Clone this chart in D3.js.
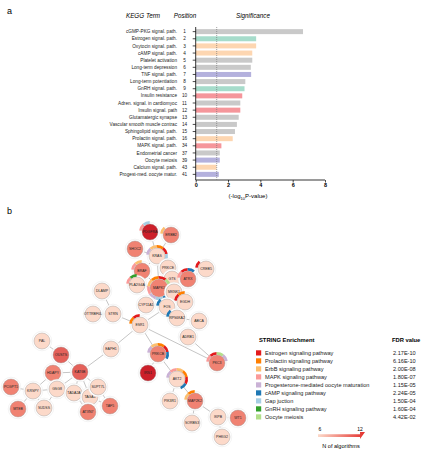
<!DOCTYPE html>
<html>
<head>
<meta charset="utf-8">
<script src="https://cdn.jsdelivr.net/npm/d3@7"></script>
<style>
  body { margin: 0; background: #fff; }
  svg { font-family: "Liberation Sans", Arial, sans-serif; }
</style>
</head>
<body>
<div id="chart"></div>
<script>
// ---- panel a data ----
var keggTerms = ["cGMP-PKG signal. path.", "Estrogen signal. path.", "Oxytocin signal. path.", "cAMP signal. path.",
  "Platelet activation", "Long-term depression", "TNF signal. path.", "Long-term potentiation", "GnRH signal. path.",
  "Insulin resistance", "Adren. signal. in cardiomyoc", "Insulin signal. path", "Glutamatergic synapse",
  "Vascular smooth muscle contrac", "Sphingolipid signal. path.", "Prolactin signal. path.", "MAPK signal. path.",
  "Endometrial cancer", "Oocyte meiosis", "Calcium signal. path.", "Progest-med. oocyte matur."];
var keggPositions = ["1", "2", "3", "4", "5", "6", "7", "8", "9", "10", "11", "12", "13", "14", "15", "16", "34", "37", "39", "43", "41"];
var significance = [6.64, 3.74, 3.74, 3.5, 3.5, 3.41, 3.43, 3.07, 3.02, 2.88, 2.76, 2.76, 2.66, 2.55, 2.43, 2.29,
  1.59, 1.49, 1.49, 1.29, 1.43];
var termGroup = ["other", "estrogen", "prolactin", "prolactin", "other", "other", "progest", "other", "estrogen",
  "mapk", "other", "mapk", "other", "other", "other", "prolactin", "mapk", "other", "progest", "prolactin", "progest"];
var xTicks = [0, 2, 4, 6, 8];
var threshold = 1.3;

// ---- panel b data ----
var pathways = ["Estrogen signaling pathway", "Prolactin signaling pathway", "ErbB signaling pathway",
  "MAPK signaling pathway", "Progesterone-mediated oocyte maturation", "cAMP signaling pathway",
  "Gap juction", "GnRH signaling pathway", "Oocyte meiosis"];
var fdrValues = ["2.17E-10", "6.16E-10", "2.00E-08", "1.80E-07", "1.15E-05", "2.24E-05", "1.50E-04", "1.60E-04", "4.42E-02"];

// gene, layout x, layout y, N of algorithms
var genes = [
  ["PDGFRA", 150, 12, 12], ["ERBB2", 171, 15, 9], ["SHOC2", 135, 29, 9], ["KRAS", 157, 36, 6],
  ["BRAF", 142, 51, 9], ["PRKCE", 168, 48, 6], ["GTS", 172, 59, 6], ["ATRX", 188, 59, 9],
  ["CREB5", 206, 49, 6], ["MAPK1", 159, 68, 9], ["PLA2G4A", 137, 65, 6], ["MKNK1", 174, 72, 6],
  ["EGDH", 185, 82, 6], ["CYP11A1", 146, 85, 6], ["FOS", 167, 87, 6], ["DLAMP", 102, 71, 6],
  ["OTTRBF0L", 93, 94, 6], ["STRN", 113, 94, 6], ["ESR1", 140, 105, 6], ["RPS6KA2", 177, 98, 6],
  ["ABCA", 199, 101, 6], ["ADRB1", 188, 117, 6], ["PAL", 42, 121, 6], ["OUSTS", 61, 135, 10],
  ["EAPH1", 111, 129, 6], ["HDAPY", 53, 153, 9], ["KAT6B", 80, 152, 10], ["PCGPT1", 11, 167, 9],
  ["KRSPY", 33, 171, 6], ["GSG8", 57, 169, 6], ["TADA2A", 74, 173, 6], ["TAGA1", 90, 177, 6],
  ["SUPT7L", 98, 167, 6], ["MTEB", 18, 189, 9], ["SUDSS", 44, 188, 6], ["ATXN7", 88, 192, 9],
  ["TAF5", 110, 186, 9], ["PRKCB", 158, 134, 9], ["IRS1", 148, 153, 12], ["AKT2", 177, 159, 6],
  ["PIK3R1", 170, 181, 6], ["MAP2K2", 195, 181, 9], ["SORBS3", 192, 203, 6], ["PKC3", 217, 143, 9],
  ["IKPB", 218, 197, 6], ["WT1", 238, 198, 9], ["PHKG2", 222, 217, 6]
];

var links = [
  ["PDGFRA", "KRAS"], ["ERBB2", "KRAS"], ["SHOC2", "KRAS"], ["KRAS", "BRAF"], ["KRAS", "PRKCE"],
  ["KRAS", "MAPK1"], ["BRAF", "MAPK1"], ["PRKCE", "MAPK1"], ["MAPK1", "GTS"], ["GTS", "ATRX"],
  ["ATRX", "CREB5"], ["MAPK1", "PLA2G4A"], ["MAPK1", "MKNK1"], ["MAPK1", "CYP11A1"], ["MAPK1", "FOS"],
  ["MKNK1", "EGDH"], ["FOS", "EGDH"], ["FOS", "ESR1"], ["FOS", "RPS6KA2"], ["RPS6KA2", "ABCA"],
  ["ESR1", "STRN"], ["STRN", "OTTRBF0L"], ["STRN", "DLAMP"], ["ESR1", "EAPH1"], ["ESR1", "PRKCB"],
  ["ESR1", "PKC3"], ["ADRB1", "PKC3"], ["EAPH1", "KAT6B"], ["KAT6B", "OUSTS"], ["KAT6B", "HDAPY"],
  ["KAT6B", "GSG8"], ["KAT6B", "TADA2A"], ["KAT6B", "TAGA1"], ["KAT6B", "SUPT7L"], ["OUSTS", "PAL"],
  ["OUSTS", "HDAPY"], ["HDAPY", "KRSPY"], ["HDAPY", "GSG8"], ["KRSPY", "PCGPT1"], ["KRSPY", "MTEB"],
  ["KRSPY", "SUDSS"], ["KRSPY", "GSG8"], ["GSG8", "SUDSS"], ["TADA2A", "TAGA1"], ["TAGA1", "SUPT7L"],
  ["TAGA1", "ATXN7"], ["TAGA1", "TAF5"], ["SUPT7L", "TAF5"], ["TADA2A", "ATXN7"], ["PRKCB", "IRS1"],
  ["PRKCB", "AKT2"], ["AKT2", "PIK3R1"], ["AKT2", "MAP2K2"], ["MAP2K2", "SORBS3"], ["MAP2K2", "IKPB"],
  ["IKPB", "WT1"], ["IKPB", "PHKG2"]
];

// pathway membership (index into pathways) drawn as ring segments
var membership = {
  PDGFRA: [3, 6], ERBB2: [2], KRAS: [4, 2, 1, 0, 6], BRAF: [3, 2], MAPK1: [2, 1, 0, 8, 7, 5, 6, 4, 3],
  PLA2G4A: [3, 7], ATRX: [3, 0, 5], CREB5: [0], EGDH: [0, 1], FOS: [5], ESR1: [1, 0], RPS6KA2: [5],
  PRKCB: [4, 2, 1, 0, 5], AKT2: [4, 3, 2, 1, 0, 5], MAP2K2: [2, 1], PKC3: [3, 0, 8, 4]
};

var W = 428, H = 452;
var svg = d3.select("#chart").append("svg").attr("width", W).attr("height", H);

// ================= panel a =================
var groupColor = d3.scaleOrdinal()
  .domain(["other", "estrogen", "prolactin", "progest", "mapk"])
  .range(["#c9c9c9", "#a6dccb", "#fdd6b1", "#b4b1dd", "#f5969b"]);

var x = d3.scaleLinear().domain([0, 8]).range([195.7, 325]);
var y = d3.scaleBand().domain(keggTerms).range([27, 179]).padding(0.3);

svg.append("text").attr("x", 7).attr("y", 14).style("font-size", "9px").text("a");

var heads = svg.append("g").style("font-size", "6.3px").style("font-style", "italic").attr("text-anchor", "middle");
heads.append("text").attr("x", 143).attr("y", 18).text("KEGG Term");
heads.append("text").attr("x", 185).attr("y", 18).text("Position");
heads.append("text").attr("x", 253).attr("y", 18).text("Significance");

svg.append("g").selectAll("rect")
  .data(keggTerms)
  .enter().append("rect")
  .attr("x", x(0))
  .attr("y", function (d) { return y(d); })
  .attr("width", function (d, i) { return x(significance[i]) - x(0); })
  .attr("height", y.bandwidth())
  .style("fill", function (d, i) { return groupColor(termGroup[i]); });

// term & position labels
var rowLabels = svg.append("g").style("font-size", "4.7px").style("fill", "#222");
rowLabels.selectAll(".term").data(keggTerms).enter().append("text")
  .attr("x", 177).attr("y", function (d) { return y(d) + y.bandwidth() / 2 + 1.6; })
  .attr("text-anchor", "end").text(function (d) { return d; });
rowLabels.selectAll(".pos").data(keggTerms).enter().append("text")
  .attr("x", 184.5).attr("y", function (d) { return y(d) + y.bandwidth() / 2 + 1.6; })
  .attr("text-anchor", "middle").text(function (d, i) { return keggPositions[i]; });

// left axis
var yAxis = svg.append("g").attr("transform", "translate(" + x(0) + ",0)")
  .call(d3.axisLeft(y).tickSize(3).tickFormat(""));
yAxis.select(".domain").attr("d", "M0,27V180");
yAxis.selectAll("line").style("stroke-width", 0.7);
yAxis.select(".domain").style("stroke-width", 0.8);

// bottom axis
var xAxis = svg.append("g").attr("transform", "translate(0,180)")
  .call(d3.axisBottom(x).tickValues(xTicks).tickSize(2.5).tickPadding(1));
xAxis.select(".domain").attr("d", "M" + x(0) + ",0H" + x(8)).style("stroke-width", 0.8);
xAxis.selectAll("text").style("font-size", "5.5px").style("font-weight", "bold").style("font-family", "Liberation Sans, Arial, sans-serif");
xAxis.selectAll("line").style("stroke-width", 0.7);

var xt = svg.append("text").attr("x", 248).attr("y", 198).attr("text-anchor", "middle").style("font-size", "6px");
xt.append("tspan").text("(-log");
xt.append("tspan").attr("dy", 1.5).style("font-size", "4px").text("10");
xt.append("tspan").attr("dy", -1.5).text("P-value)");

// threshold line
svg.append("line")
  .attr("x1", x(threshold)).attr("x2", x(threshold)).attr("y1", 27).attr("y2", 180)
  .style("stroke", "#777").style("stroke-width", 0.7).style("stroke-dasharray", "1,1");

// ================= panel b =================
svg.append("text").attr("x", 7).attr("y", 214).style("font-size", "9px").text("b");

var pathColor = d3.scaleOrdinal()
  .domain(d3.range(pathways.length))
  .range(["#e31a1c", "#ff7f00", "#fdbf6f", "#fb9a99", "#cab2d6", "#1f78b4", "#a6cee3", "#33a02c", "#b2df8a"]);

var nodeColor = d3.scaleLinear().domain([6, 9, 12]).range(["#fcd9c9", "#f08272", "#cc1f2a"]);

var nx = d3.scaleLinear().domain([0, 250]).range([0, 250]);
var ny = d3.scaleLinear().domain([0, 230]).range([220, 450]);

var byId = {};
genes.forEach(function (g) { byId[g[0]] = g; });

var net = svg.append("g");
net.append("g").selectAll("line")
  .data(links).enter().append("line")
  .attr("x1", function (d) { return nx(byId[d[0]][1]); })
  .attr("y1", function (d) { return ny(byId[d[0]][2]); })
  .attr("x2", function (d) { return nx(byId[d[1]][1]); })
  .attr("y2", function (d) { return ny(byId[d[1]][2]); })
  .style("stroke", "#8a8a8a").style("stroke-width", 0.5);

function radius(g) { return g[0] === "MAPK1" ? 9 : 8; }

var nodes = net.append("g").selectAll("g")
  .data(genes).enter().append("g")
  .attr("transform", function (d) { return "translate(" + nx(d[1]) + "," + ny(d[2]) + ")"; });

nodes.append("circle")
  .attr("r", function (d) { return radius(d) + 1.8; })
  .style("fill", "#fff").style("stroke", "#e4e4e4").style("stroke-width", 0.4);

var arc = d3.arc();
var segSpan = Math.PI * 2 / 9;
nodes.each(function (d) {
  var m = membership[d[0]];
  if (!m) return;
  var r = radius(d);
  var start = -Math.PI / 2.2;
  d3.select(this).selectAll("path").data(m).enter().append("path")
    .attr("d", function (p, i) {
      return arc({innerRadius: r + 0.3, outerRadius: r + 3, startAngle: start + i * segSpan, endAngle: start + (i + 1) * segSpan});
    })
    .style("fill", function (p) { return pathColor(p); });
});

nodes.append("circle")
  .attr("r", radius)
  .style("fill", function (d) { return nodeColor(d[3]); })
  .style("stroke", "#9a9a9a").style("stroke-width", 0.4);

nodes.append("text")
  .attr("y", 1.2)
  .attr("text-anchor", "middle")
  .style("font-size", "3.5px")
  .style("fill", "#222")
  .text(function (d) { return d[0]; });

// legend
var leg = svg.append("g");
leg.append("text").attr("x", 259).attr("y", 342).style("font-size", "5.8px").style("font-weight", "bold").text("STRING Enrichment");
leg.append("text").attr("x", 392).attr("y", 342).style("font-size", "5.8px").style("font-weight", "bold").text("FDR value");

var ly = d3.scaleBand().domain(d3.range(pathways.length)).range([349, 421]);
var items = leg.selectAll(".item").data(pathways).enter().append("g")
  .attr("transform", function (d, i) { return "translate(0," + ly(i) + ")"; });
items.append("rect").attr("x", 256).attr("y", 1.3).attr("width", 5.2).attr("height", 5.2)
  .style("fill", function (d, i) { return pathColor(i); });
items.append("text").attr("x", 265).attr("y", 6).style("font-size", "5.6px").style("fill", "#222").text(function (d) { return d; });
items.append("text").attr("x", 393).attr("y", 6).style("font-size", "5.6px").style("fill", "#222")
  .text(function (d, i) { return fdrValues[i]; });

// gradient arrow
var defs = svg.append("defs");
var grad = defs.append("linearGradient").attr("id", "ngrad");
grad.append("stop").attr("offset", "0%").attr("stop-color", nodeColor(6));
grad.append("stop").attr("offset", "100%").attr("stop-color", "#e4302c");

var gs = d3.scaleLinear().domain([6, 12]).range([320, 360]);
leg.append("path")
  .attr("d", "M" + (gs(6) - 2) + ",434.3H" + gs(12) + "V432H" + (gs(12) + 5) + "L" + gs(12) + ",439V436.9H" + (gs(6) - 2) + "Z")
  .style("fill", "url(#ngrad)");
leg.selectAll(".gl").data([6, 12]).enter().append("text")
  .attr("x", function (d) { return gs(d); }).attr("y", 430.5)
  .attr("text-anchor", "middle").style("font-size", "5px").text(function (d) { return d; });
leg.append("text").attr("x", 341).attr("y", 448).attr("text-anchor", "middle").style("font-size", "5.6px").text("N of algorithms");
</script>
</body>
</html>
